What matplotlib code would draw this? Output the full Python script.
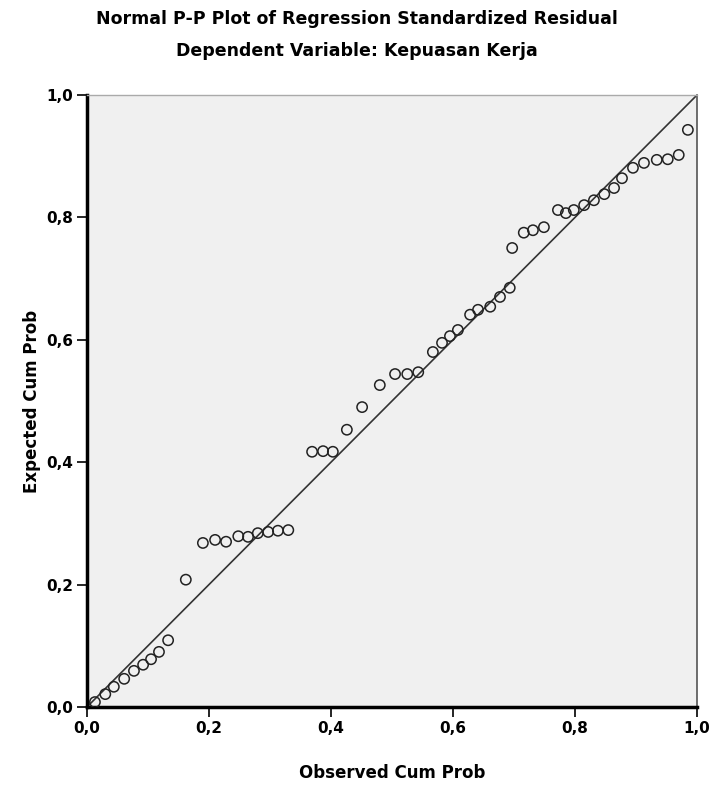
import numpy as np
import matplotlib.pyplot as plt

# observed / expected cumulative probabilities
observed = [0.013, 0.030, 0.044, 0.061, 0.077, 0.092, 0.105, 0.118, 0.133, 0.162,
            0.190, 0.210, 0.228, 0.248, 0.264, 0.280, 0.297, 0.313, 0.330,
            0.369, 0.387, 0.403, 0.426, 0.451, 0.480, 0.505, 0.525, 0.543,
            0.567, 0.582, 0.595, 0.608, 0.628, 0.641, 0.661, 0.677, 0.693,
            0.697, 0.716, 0.731, 0.749, 0.772, 0.785, 0.798, 0.815, 0.831,
            0.848, 0.864, 0.877, 0.895, 0.913, 0.934, 0.952, 0.970, 0.985]
expected = [0.008, 0.021, 0.033, 0.046, 0.059, 0.069, 0.078, 0.090, 0.109, 0.208,
            0.268, 0.273, 0.270, 0.279, 0.278, 0.284, 0.286, 0.288, 0.289,
            0.417, 0.418, 0.417, 0.453, 0.490, 0.526, 0.544, 0.544, 0.547,
            0.580, 0.595, 0.606, 0.616, 0.641, 0.649, 0.654, 0.670, 0.685,
            0.750, 0.775, 0.779, 0.784, 0.812, 0.807, 0.812, 0.820, 0.828,
            0.838, 0.848, 0.864, 0.881, 0.889, 0.894, 0.895, 0.902, 0.943]
ticks = [0.0, 0.2, 0.4, 0.6, 0.8, 1.0]
tick_labels = ['0,0', '0,2', '0,4', '0,6', '0,8', '1,0']

fig = plt.figure(figsize=(7.13, 7.87), dpi=100)
ax = fig.add_axes([0.122, 0.1017, 0.8556, 0.7776])
ax.set_facecolor('#f0f0f0')

ax.plot([0, 1], [0, 1], color='#333333', lw=1.2, zorder=2)
ax.scatter(observed, expected, s=55, facecolors='none', edgecolors='#222222',
           linewidths=1.1, zorder=3)

ax.set_xlim(0, 1)
ax.set_ylim(0, 1)
ax.set_xticks(ticks)
ax.set_xticklabels(tick_labels)
ax.set_yticks(ticks)
ax.set_yticklabels(tick_labels)
ax.tick_params(direction='out', length=7, width=1.2, labelsize=11, pad=3)
for lab in ax.get_xticklabels() + ax.get_yticklabels():
    lab.set_fontweight('bold')

ax.spines['left'].set_linewidth(2.5)
ax.spines['bottom'].set_linewidth(2.5)
ax.spines['right'].set_color('#555555')
ax.spines['right'].set_linewidth(1.2)
ax.spines['top'].set_color('#aaaaaa')
ax.spines['top'].set_linewidth(1.0)

ax.set_xlabel('Observed Cum Prob', fontsize=12, fontweight='bold', labelpad=20)
ax.set_ylabel('Expected Cum Prob', fontsize=12, fontweight='bold', labelpad=4)

fig.text(0.5, 0.976, 'Normal P-P Plot of Regression Standardized Residual',
         ha='center', va='center', fontsize=12.5, fontweight='bold')
fig.text(0.5, 0.935, 'Dependent Variable: Kepuasan Kerja',
         ha='center', va='center', fontsize=12.5, fontweight='bold')

fig.savefig('out.png', dpi=100)
